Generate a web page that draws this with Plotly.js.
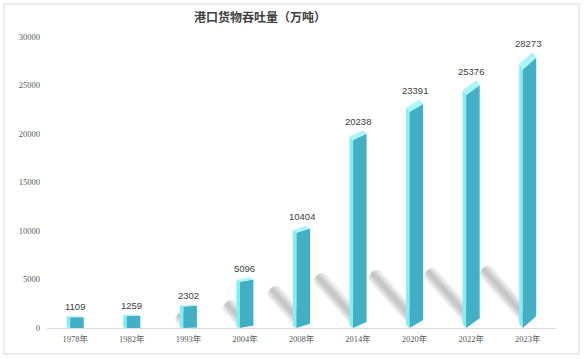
<!DOCTYPE html>
<html>
<head>
<meta charset="utf-8">
<script src="https://cdn.plot.ly/plotly-3.0.1.min.js"></script>
<style>html,body{margin:0;padding:0;background:#fff;}#chart{width:584px;height:359px;}</style>
</head>
<body>
<div id="chart"></div>
<script>
// ---- data ----
const categories = ['1978年','1982年','1993年','2004年','2008年','2014年','2020年','2022年','2023年'];
const values = [1109, 1259, 2302, 5096, 10404, 20238, 23391, 25376, 28273];
const titleText = '港口货物吞吐量（万吨）';
const yTicks = [0, 5000, 10000, 15000, 20000, 25000, 30000];
const yTickText = ['0', '5000', '10000', '15000', '20000', '25000', '30000'];

// ---- geometry helpers (pixel offsets converted into data units) ----
const W = 584, H = 359;
const M = {l: 47, r: 28, t: 37, b: 31};
const PW = W - M.l - M.r, PH = H - M.t - M.b;
const YMAX = 30000, N = categories.length;
const toX = px => (px - M.l) / PW * N - 0.5;
const toY = py => (H - M.b - py) / PH * YMAX;
const catPx = i => M.l + (i + 0.5) * PW / N;
const valPy = v => H - M.b - v / YMAX * PH;
const BASE = H - M.b;

const COL_FACE = '#43afc4';
const COL_SIDE = '#7ef1f6';
const COL_CAP = '#a9f6f9';

function polyTrace(polys, color, opacity) {
  const x = [], y = [];
  polys.forEach(p => {
    p.forEach(pt => { x.push(toX(pt[0])); y.push(toY(pt[1])); });
    x.push(toX(p[0][0])); y.push(toY(p[0][1]));
    x.push(null); y.push(null);
  });
  return {type: 'scatter', mode: 'lines', x, y, fill: 'toself', fillcolor: color,
    line: {width: 0, color: color}, opacity: opacity === undefined ? 1 : opacity,
    hoverinfo: 'skip', showlegend: false, cliponaxis: false};
}

const faces = [], sides = [], caps = [];
const shadowHalf = [8, 6.8, 5.6, 4.4, 3.2, 2];
const shadowLayers = shadowHalf.map(() => []);
const dir = [-0.66, -0.75];

values.forEach((v, i) => {
  const c = catPx(i);
  const s = Math.max(0, (i - 1.7) * 1.85);
  const xs = c - 8.5, x0 = c - 5, x1 = c + 8.5;
  const vp = valPy(v);
  const yTR = vp + s * 0.35;
  const yTL = yTR + s;
  const d = 1 + s * 0.4;
  faces.push([[x0, BASE], [x1, BASE - s], [x1, yTR], [x0, yTL]]);
  sides.push([[xs, BASE - d * 0.7], [x0, BASE], [x0, yTL], [xs, yTL - d]]);
  caps.push([[xs, yTL - d], [x0, yTL], [x1, yTR], [x1 - (x0 - xs), yTR - d]]);
  // soft shadow on the floor
  const L = 72 * (1 - Math.exp(-v / 10500));
  const bx = c, by = BASE - 3 - s * 0.5;
  const nx = -dir[1], ny = dir[0];
  shadowHalf.forEach((h, k) => {
    const len = Math.max(0, L - h * 0.5);
    const ex = bx + len * dir[0], ey = by + len * dir[1];
    const w = h;
    const pts = [[bx + nx * w, by + ny * w], [ex + nx * w, ey + ny * w]];
    for (let a = 1; a < 6; a++) {
      const t = Math.PI * a / 6;
      const cs = Math.cos(t), sn = Math.sin(t);
      pts.push([ex + nx * w * cs + dir[0] * w * 0.7 * sn, ey + ny * w * cs + dir[1] * w * 0.7 * sn]);
    }
    pts.push([ex - nx * w, ey - ny * w], [bx - nx * w, by - ny * w]);
    shadowLayers[k].push(pts);
  });
});

const traces = [];
shadowLayers.forEach(layer => traces.push(polyTrace(layer, '#000', 0.04)));
traces.push(polyTrace(sides, COL_SIDE));
traces.push(polyTrace(faces, COL_FACE));
traces.push(polyTrace(caps, COL_CAP));

const annotations = values.map((v, i) => ({
  x: i, y: v, xref: 'x', yref: 'y', text: String(v), showarrow: false,
  yanchor: 'bottom', yshift: 3,
  font: {family: 'Liberation Sans, Arial, sans-serif', size: 9.5, color: '#404040'}
}));

const layout = {
  width: W, height: H,
  margin: {l: M.l, r: M.r, t: M.t, b: M.b, pad: 0},
  paper_bgcolor: '#ffffff', plot_bgcolor: '#ffffff',
  title: {
    text: titleText, xref: 'paper', x: (260 - M.l) / PW, xanchor: 'center',
    yref: 'container', y: 1 - 18 / H, yanchor: 'middle',
    font: {family: 'Noto Sans CJK SC, sans-serif', size: 12, color: '#404040', weight: 'bold'}
  },
  xaxis: {
    type: 'linear', range: [-0.5, N - 0.5], tickmode: 'array',
    tickvals: categories.map((_, i) => i), ticktext: categories,
    showgrid: false, zeroline: false, showline: true, linecolor: '#d9d9d9', linewidth: 1,
    ticks: '', ticklabelstandoff: 3, fixedrange: true,
    tickfont: {family: 'Liberation Serif, Noto Sans CJK SC, serif', size: 8.5, color: '#595959'}
  },
  yaxis: {
    range: [0, YMAX], tickmode: 'array', tickvals: yTicks, ticktext: yTickText,
    showgrid: false, zeroline: false, showline: false,
    ticks: '', ticklabelstandoff: 6, fixedrange: true,
    tickfont: {family: 'Liberation Serif, serif', size: 8.5, color: '#595959'}
  },
  shapes: [{
    type: 'rect', xref: 'paper', yref: 'paper', layer: 'below',
    x0: (4 - M.l) / PW, x1: (579 - M.l) / PW,
    y0: (BASE - 354) / PH, y1: (BASE - 4) / PH,
    line: {color: '#d9d9d9', width: 1}, fillcolor: 'rgba(0,0,0,0)'
  }],
  annotations,
  showlegend: false
};

Plotly.newPlot('chart', traces, layout, {staticPlot: true, displayModeBar: false});
</script>
</body>
</html>
